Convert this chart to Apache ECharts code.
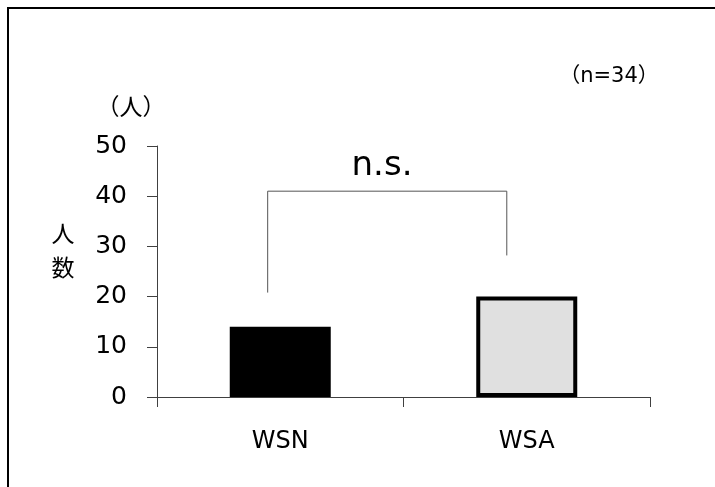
<!DOCTYPE html>
<html>
<head>
<meta charset="utf-8">
<script src="https://cdn.jsdelivr.net/npm/echarts@6/dist/echarts.min.js"></script>
<style>
  html, body { margin: 0; padding: 0; background: #fff; }
  #chart { width: 715px; height: 487px; }
</style>
</head>
<body>
<div id="chart"></div>
<script>
// Group labels and respondent counts
const categories = ['WSN', 'WSA'];
const counts = [14, 20];
const yTicks = { min: 0, max: 50, step: 10 };

// Significance bracket, x in category units (0..2), y in persons
const bracketX = [0.449, 0.449, 1.419, 1.419];
const bracketY = [20.8, 41, 41, 28.2];
const bracketLabel = 'n.s.';

const sampleNote = '（n=34）';
const unitLabel = '（人）';
const axisTitle = '人\n数';

const FONT = '"DejaVu Sans", "Noto Sans CJK JP", sans-serif';
const CJK = '"Noto Sans CJK JP", sans-serif';
const AXIS = '#404040';

const chart = echarts.init(document.getElementById('chart'));

function label(x, y, text, size, family, extra) {
  return {
    type: 'text', x: x, y: y, silent: true,
    style: Object.assign({
      text: text, fontSize: size, fontFamily: family, fill: '#000',
      textAlign: 'center', textVerticalAlign: 'middle'
    }, extra || {})
  };
}

chart.setOption({
  animation: false,
  backgroundColor: '#fff',
  grid: { left: 157, right: 65, top: 146, bottom: 90 },
  xAxis: [
    {
      type: 'category',
      data: categories,
      axisLine: { lineStyle: { color: AXIS, width: 1 } },
      axisTick: { show: true, length: 10, lineStyle: { color: AXIS } },
      axisLabel: { color: '#000', fontFamily: FONT, fontSize: 24, margin: 33 }
    },
    {
      type: 'value', min: 0, max: 2, show: false
    }
  ],
  yAxis: {
    type: 'value',
    min: yTicks.min,
    max: yTicks.max,
    interval: yTicks.step,
    axisLine: { show: true, lineStyle: { color: AXIS, width: 1 } },
    axisTick: { show: true, length: 10, lineStyle: { color: AXIS } },
    axisLabel: { color: '#000', fontFamily: FONT, fontSize: 25, margin: 30 },
    splitLine: { show: false }
  },
  series: [
    {
      type: 'bar',
      barWidth: 101,
      data: counts.map((v, i) => ({
        value: v,
        itemStyle: i === 0
          ? { color: '#000' }
          : { color: '#e0e0e0', borderColor: '#000', borderWidth: 4 }
      }))
    },
    {
      type: 'line',
      xAxisIndex: 1,
      data: bracketX.map((x, i) => [x, bracketY[i]]),
      symbol: 'none',
      lineStyle: { color: '#555', width: 1 },
      z: 5
    }
  ],
  graphic: [
    {
      type: 'rect',
      shape: { x: 8, y: 8, width: 730, height: 520 },
      style: { fill: 'none', stroke: '#000', lineWidth: 2 },
      silent: true
    },
    label(382, 166, bracketLabel, 34, FONT),
    label(609, 77, sampleNote, 21, FONT),
    label(131, 106, unitLabel, 23, CJK),
    label(63, 250, axisTitle, 23, CJK, { lineHeight: 34 })
  ]
});
</script>
</body>
</html>
